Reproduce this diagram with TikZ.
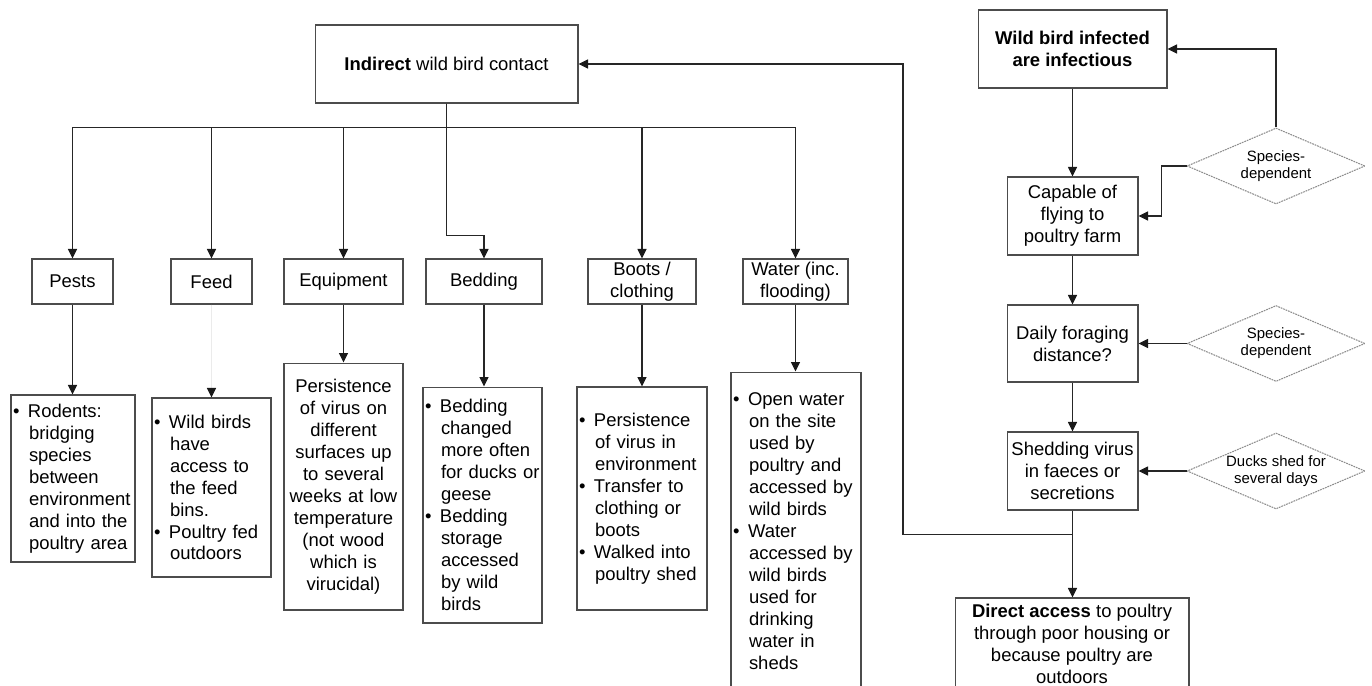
\documentclass[tikz,border=0pt]{standalone}
\usepackage{fontspec}
\setmainfont{Liberation Sans}
\usetikzlibrary{arrows.meta,shapes.geometric}
\newcommand\bul{\makebox[0.3cm][l]{\textbullet}}
\newcommand\indt{\hspace*{0.32cm}}

\begin{document}
\begin{tikzpicture}[x=0.02cm,y=-0.02cm,line width=0.6pt,
    box/.style={draw=black!70,inner sep=0.04cm,align=center,
      font=\fontsize{10.5}{12.5}\selectfont},
    listbox/.style={box,align=left},
    choice/.style={diamond,draw=black!45,dash pattern=on 1pt off 0.5pt,
      aspect=2.34,inner sep=0pt,minimum width=3.56cm,minimum height=1.52cm,
      align=center,font=\fontsize{8.5}{9.8}\selectfont},
    conn/.style={draw=black!85,-{Triangle[length=1.9mm,width=1.8mm,color=black!90]}}]
  \clip (0,0) rectangle (1372,686);
  % indirect route
  \node[box,minimum width=5.26cm,minimum height=1.56cm] (indirect) at (446.5,64)
    {\textbf{Indirect} wild bird contact};
  \node[box,minimum width=1.62cm,minimum height=0.9cm] (pests) at (72.5,281.5) {Pests};
  \node[box,minimum width=1.62cm,minimum height=0.9cm] (feed) at (211.5,281.5) {Feed};
  \node[box,minimum width=2.38cm,minimum height=0.9cm] (equip) at (343.5,281.5) {Equipment};
  \node[box,minimum width=2.32cm,minimum height=0.9cm] (bedding) at (484,281.5) {Bedding};
  \node[box,minimum width=2.16cm,minimum height=0.9cm] (boots) at (642,281.5) {Boots /\\clothing};
  \node[box,minimum width=2.10cm,minimum height=0.9cm] (water) at (795.5,281.5) {Water (inc.\\flooding)};

  \node[listbox,text width=2.40cm,minimum height=3.34cm] (rodents) at (73,478.5)
    {\bul Rodents:\\ \indt bridging\\ \indt species\\ \indt between\\ \indt environment\\
     \indt and into the\\ \indt poultry area};
  \node[listbox,text width=2.30cm,minimum height=3.58cm] (feedsub) at (211.5,487.5)
    {\bul Wild birds\\ \indt have\\ \indt access to\\ \indt the feed\\ \indt bins.\\
     \bul Poultry fed\\ \indt outdoors};
  \node[box,text width=2.30cm,minimum height=4.94cm] (equipsub) at (343.5,486.5)
    {Persistence\\of virus on\\different\\surfaces up\\to several\\weeks at low\\temperature\\
     (not wood\\which is\\virucidal)};
  \node[listbox,text width=2.30cm,minimum height=4.72cm] (beddingsub) at (482.5,505)
    {\bul Bedding\\ \indt changed\\ \indt more often\\ \indt for ducks or\\ \indt geese\\
     \bul Bedding\\ \indt storage\\ \indt accessed\\ \indt by wild\\ \indt birds};
  \node[listbox,text width=2.52cm,minimum height=4.46cm] (bootssub) at (642,498.5)
    {\bul Persistence\\ \indt of virus in\\ \indt environment\\
     \bul Transfer to\\ \indt clothing or\\ \indt boots\\
     \bul Walked into\\ \indt poultry shed};
  \node[listbox,text width=2.52cm,minimum height=6.36cm] (watersub) at (796,531)
    {\bul Open water\\ \indt on the site\\ \indt used by\\ \indt poultry and\\
     \indt accessed by\\ \indt wild birds\\
     \bul Water\\ \indt accessed by\\ \indt wild birds\\ \indt used for\\ \indt drinking\\
     \indt water in\\ \indt sheds};

  % direct route
  \node[box,minimum width=3.78cm,minimum height=1.56cm] (wild) at (1072.5,49)
    {\textbf{Wild bird infected}\\\textbf{are infectious}};
  \node[box,minimum width=2.62cm,minimum height=1.56cm] (capable) at (1072.5,216)
    {Capable of\\flying to\\poultry farm};
  \node[box,minimum width=2.62cm,minimum height=1.54cm] (daily) at (1072.5,343.5)
    {Daily foraging\\distance?};
  \node[box,minimum width=2.62cm,minimum height=1.56cm] (shed) at (1072.5,471)
    {Shedding virus\\in faeces or\\secretions};
  \node[box,minimum width=4.68cm,minimum height=1.84cm] (direct) at (1072,644)
    {\textbf{Direct access} to poultry\\through poor housing or\\because poultry are\\outdoors};
  \node[choice] (spec1) at (1276,166) {Species-\\dependent};
  \node[choice] (spec2) at (1276,343.5) {Species-\\dependent};
  \node[choice] (ducks) at (1276,471) {Ducks shed for\\several days};
  \coordinate (back) at (903,64);

  \foreach \n in {pests,feed,equip,boots,water}
    \draw[conn] (indirect.south) -- ++(0,24) -| (\n.north);
  \draw[conn] (indirect.south) -- ++(0,132) -| (bedding.north);
  \foreach \a/\b in {pests/rodents,equip/equipsub,bedding/beddingsub,boots/bootssub,water/watersub}
    \draw[conn] (\a.south) -- (\a.south |- \b.north);
  \draw[conn,draw=black!8] (feed.south) -- (feed.south |- feedsub.north);

  \draw[conn] (wild.south) -- (capable.north);
  \draw[conn] (capable.south) -- (daily.north);
  \draw[conn] (daily.south) -- (shed.north);
  \draw[conn] (shed.south) -- (shed.south |- direct.north);
  \draw[conn] (spec1.north) |- (wild.east);
  \draw[conn] (spec1.west) -- ++(-25,0) |- (capable.east);
  \draw[conn] (spec2.west) -- (daily.east);
  \draw[conn] (ducks.west) -- (shed.east);
  \draw[conn] (shed.south) -- ++(0,24) -| (back) -- (indirect.east);
\end{tikzpicture}
\end{document}
